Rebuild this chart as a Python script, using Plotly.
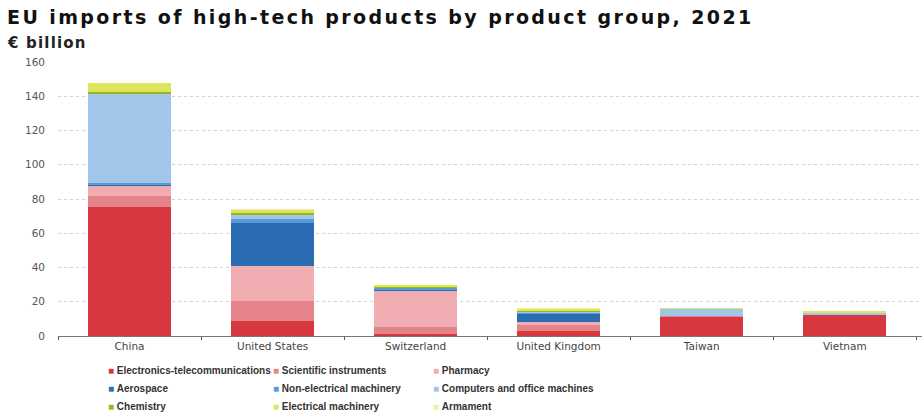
import plotly.graph_objects as go

# Partner countries and EU imports by product group (€ billion, 2021)
countries = ["China", "United States", "Switzerland", "United Kingdom", "Taiwan", "Vietnam"]

groups = [
    "Electronics-telecommunications", "Scientific instruments", "Pharmacy",
    "Aerospace", "Non-electrical machinery", "Computers and office machines",
    "Chemistry", "Electrical machinery", "Armament",
]

electronics = [75.5, 9.0, 1.0, 3.0, 11.3, 12.3]
scientific = [6.5, 11.6, 4.4, 3.4, 0.3, 0.0]
pharmacy = [5.6, 20.3, 21.0, 2.0, 0.0, 0.0]
aerospace = [0.4, 25.3, 0.6, 4.3, 0.0, 0.0]
non_electrical = [1.2, 2.1, 1.3, 1.2, 0.0, 0.0]
computers = [52.5, 2.9, 0.3, 0.6, 4.2, 1.6]
chemistry = [0.5, 0.4, 0.2, 0.3, 0.0, 0.0]
electrical = [5.8, 2.3, 0.9, 1.4, 0.5, 0.5]
armament = [0.0, 0.1, 0.0, 0.1, 0.0, 0.0]

series = [electronics, scientific, pharmacy, aerospace, non_electrical,
          computers, chemistry, electrical, armament]

colors = ["#d7383f", "#e5838a", "#efadb2", "#2a6db3", "#5b9ad8",
          "#a2c5ea", "#9bb51e", "#dde65a", "#eef0a8"]

fig = go.Figure()
for name, vals, col in zip(groups, series, colors):
    fig.add_trace(go.Bar(
        x=countries, y=vals, name=name, marker_color=col,
        marker_line_width=0, showlegend=False,
    ))

FONT = "Liberation Sans, Arial, sans-serif"
WIDE = "DejaVu Sans, Verdana, sans-serif"

fig.update_layout(
    barmode="stack",
    bargap=0.42,
    width=922, height=412,
    margin=dict(l=58, r=0, t=62, b=76),
    paper_bgcolor="white", plot_bgcolor="white",
    font=dict(family=FONT, color="#444"),
    xaxis=dict(
        range=[-0.5, 5.54],
        showline=True, linecolor="#777", linewidth=1,
        ticks="outside", tickson="boundaries", ticklen=3, tickcolor="#555",
        tickfont=dict(family=WIDE, size=10.5, color="#444"),
        showgrid=False,
    ),
    yaxis=dict(
        range=[0, 160], dtick=20,
        showgrid=True, gridcolor="#d2d2d2", griddash="dot", gridwidth=1,
        zeroline=False, showline=False,
        tickfont=dict(family=WIDE, size=10.5, color="#555"),
        ticklabelstandoff=12,
    ),
)

# Title and unit
fig.add_annotation(
    text='<b><span style="letter-spacing:2.4px">EU imports of high-tech products by product group, 2021</span></b>',
    xref="paper", yref="paper", x=-53 / 864, y=1 + 45 / 274,
    xanchor="left", yanchor="middle", showarrow=False,
    font=dict(family=WIDE, size=19, color="#111"),
)
fig.add_annotation(
    text='<b><span style="letter-spacing:1.2px">€ billion</span></b>',
    xref="paper", yref="paper", x=-53 / 864, y=1 + 19 / 274,
    xanchor="left", yanchor="middle", showarrow=False,
    font=dict(family=WIDE, size=15, color="#222"),
)

# Legend laid out in three columns, row by row
col_x = [106, 271, 431]
row_y = [370, 388, 406]
for i, (name, col) in enumerate(zip(groups, colors)):
    r, c = divmod(i, 3)
    px, py = col_x[c], row_y[r]
    fig.add_annotation(
        text=f'<span style="color:{col}">■</span> <b>{name}</b>',
        xref="paper", yref="paper",
        x=(px - 58) / 864, y=(336 - py) / 274,
        xanchor="left", yanchor="middle", showarrow=False,
        font=dict(family=FONT, size=10, color="#333"),
    )

fig.write_html("out.html")
